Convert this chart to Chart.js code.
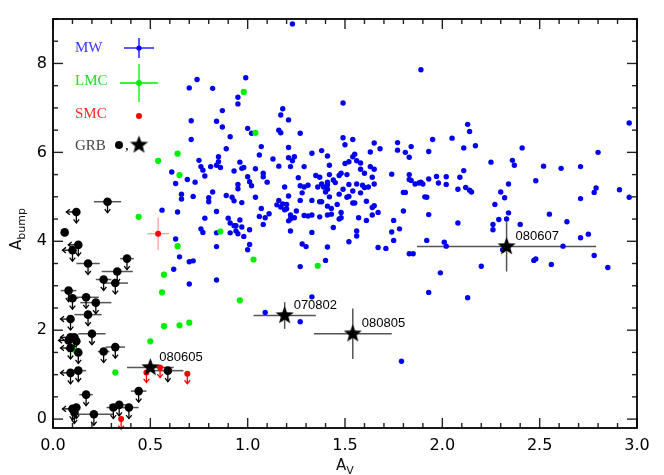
<!DOCTYPE html>
<html>
<head>
<meta charset="utf-8">
<title>A_bump vs A_V</title>
<script src="https://cdn.jsdelivr.net/npm/chart.js@4.4.1/dist/chart.umd.min.js"></script>
<style>
  html, body { margin: 0; padding: 0; background: #fff; }
  #wrap { width: 664px; height: 475px; }
</style>
</head>
<body>
<div id="wrap"><canvas id="chart" width="664" height="475"></canvas></div>
<script>
// Milky Way sightlines [A_V, A_bump]
var mwPoints = [
  [1.23,8.89],[0.74,7.64],[0.70,7.45],[0.99,7.68],[0.82,7.44],[1.89,7.86],
  [0.95,7.24],[0.95,7.09],[0.87,6.94],[1.18,6.98],[1.17,6.84],[1.21,6.73],[0.71,6.71],[0.84,6.70],
  [0.87,6.57],[1.00,6.54],[1.02,6.43],[1.16,6.50],[1.17,6.44],[1.27,6.43],[0.91,6.35],[0.71,6.29],
  [1.07,6.13],[1.21,6.11],[0.89,6.08],[1.38,6.04],[1.33,5.98],[1.06,5.94],[0.85,5.90],[1.41,5.92],
  [1.21,5.88],[1.24,5.90],[1.13,5.85],[0.75,5.82],[0.85,5.79],[0.96,5.78],[1.23,5.81],[0.76,5.68],
  [0.81,5.68],[0.84,5.71],[0.86,5.66],[0.97,5.64],[0.98,5.66],[1.16,5.69],[1.22,5.68],[1.29,5.68],
  [0.77,5.60],[0.93,5.58],[1.04,5.63],[1.08,5.53],[1.42,5.71],[0.69,5.39],[0.73,5.33],[0.78,5.47],
  [1.00,5.45],[1.08,5.45],[1.01,5.34],[1.02,5.25],[1.10,5.33],[1.35,5.48],[1.37,5.44],[1.26,5.43],
  [0.95,5.28],[0.95,5.18],[1.19,5.22],[1.27,5.25],[1.28,5.09],[1.29,5.22],[1.31,5.26],[1.36,5.22],
  [1.38,5.29],[1.39,5.22],[1.41,5.33],[1.41,5.17],[1.40,5.11],[1.42,5.00],[0.82,5.11],[0.66,5.06],
  [0.66,4.95],[0.72,5.01],[0.80,4.98],[0.80,4.89],[0.89,5.03],[0.92,4.99],[0.93,4.91],[0.97,4.87],
  [1.04,4.99],[1.21,5.02],[1.16,4.92],[1.15,4.82],[1.17,4.77],[1.18,4.84],[1.20,4.83],[1.20,4.73],
  [1.19,4.71],[1.25,4.68],[1.27,4.92],[1.33,4.92],[1.37,4.89],[1.38,4.89],[1.41,4.79],[1.07,4.74],
  [1.06,4.56],[1.09,4.53],[1.11,4.62],[1.08,4.38],[1.22,4.59],[1.24,4.53],[1.22,4.50],[1.21,4.46],
  [1.29,4.58],[1.31,4.57],[1.33,4.59],[1.37,4.55],[1.41,4.59],[0.84,4.67],[0.78,4.52],[0.90,4.52],
  [0.91,4.41],[0.93,4.35],[0.94,4.35],[0.96,4.48],[0.97,4.32],[1.01,4.26],[0.94,4.23],[0.95,4.17],
  [0.98,4.11],[0.91,4.19],[0.84,4.19],[0.76,4.28],[0.77,4.20],[1.22,4.23],[1.33,4.20],[1.01,3.93],
  [0.84,3.88],[1.28,3.94],[1.30,3.88],[1.00,3.81],[1.42,5.50],[1.41,5.27],[1.41,3.87],
  [1.49,7.11],[1.49,6.33],[1.54,6.29],[1.50,6.17],[1.65,6.21],[1.68,6.08],[1.63,6.01],[1.77,6.22],
  [1.77,6.05],[1.81,6.00],[1.83,5.89],[1.84,6.13],[1.95,6.29],[1.93,6.02],[2.05,6.32],[2.11,6.10],
  [2.13,6.63],[2.14,6.47],[1.50,5.75],[1.52,5.79],[1.54,5.90],[1.55,5.96],[1.56,5.81],[1.58,5.76],
  [1.60,5.53],[1.58,5.62],[1.63,5.68],[1.65,5.62],[1.64,5.44],[1.65,5.29],[1.62,5.22],[1.60,5.21],
  [1.59,5.26],[1.56,5.29],[1.52,5.28],[1.51,5.50],[1.48,5.53],[1.47,5.48],[1.45,5.32],[1.44,5.38],
  [1.47,5.06],[1.49,5.17],[1.52,5.01],[1.51,4.99],[1.54,5.13],[1.58,5.09],[1.54,4.86],[1.55,4.86],
  [1.61,4.90],[1.43,4.74],[1.46,4.83],[1.48,4.65],[1.43,4.61],[1.47,4.50],[1.48,4.53],[1.57,4.53],
  [1.61,4.47],[1.64,4.59],[1.67,4.65],[1.65,4.80],[1.64,4.76],[1.44,4.31],[1.56,4.23],[1.56,4.12],
  [1.52,3.99],[1.67,3.86],[1.71,3.84],[1.74,5.51],[1.80,5.10],[1.81,5.10],[1.80,4.68],[1.75,4.47],
  [1.74,4.21],[1.75,4.02],[1.78,4.28],[1.83,5.50],[1.83,5.39],[1.84,5.37],[1.86,5.29],[1.88,5.31],
  [1.89,5.33],[1.90,5.29],[1.91,5.00],[1.92,4.99],[1.93,5.40],[1.93,4.60],[1.92,4.02],[1.97,5.46],
  [1.98,5.31],[2.02,5.45],[2.02,5.28],[2.08,5.17],[2.09,5.44],[2.11,5.59],[2.12,5.21],[2.14,5.15],
  [2.08,4.41],[2.01,3.98],[2.02,3.89],
  [1.40,3.57],[1.27,3.43],[1.83,3.72],[1.85,3.72],[1.99,3.29],[1.93,2.85],[2.13,2.73],[1.79,1.30],
  [0.64,4.66],[0.56,4.70],[0.63,4.05],[0.65,3.65],[0.70,3.54],[0.72,3.56],[0.62,3.37],[0.70,3.04],
  [0.84,3.13],[1.33,2.75],[1.09,2.40],[1.27,2.19],[0.61,5.56],[0.63,5.30],
  [2.17,6.15],[2.25,5.78],[2.36,5.82],[2.37,5.71],[2.41,6.10],[2.15,5.11],[2.30,5.11],[2.32,4.98],
  [2.34,5.29],[2.27,4.83],[2.29,4.49],[2.26,4.38],[2.26,4.26],[2.33,4.50],[2.34,4.64],[2.40,4.38],
  [2.31,3.81],[2.20,3.44],[2.48,5.36],[2.52,5.69],[2.61,5.64],[2.55,4.61],[2.64,4.44],[2.71,5.68],
  [2.71,4.96],[2.71,4.08],[2.75,4.16],[2.78,5.10],[2.79,5.20],[2.80,6.00],[2.91,5.16],[2.96,6.66],
  [2.96,4.99],[2.62,3.89],[2.78,3.68],[2.85,3.41],[2.47,3.57],[2.48,3.60],[2.56,3.48]
];

// LMC sightlines
var lmcPoints = [
  [0.98,7.36],[1.04,6.44],[0.64,5.97],[0.54,5.81],[0.65,5.49],[0.86,4.22],[0.44,4.55],[0.64,3.89],
  [0.57,3.25],[0.56,2.85],[0.57,2.09],[0.65,2.11],[0.70,2.17],[0.50,1.75],[0.96,2.67],[1.03,3.59],
  [1.36,3.45],[0.32,1.05],[0.11,1.56]
];

// SMC: one detection (with errors) and upper limits
var smcPoint = [[0.54, 4.17]];
var smcErr = [[0.056, 0.36]];   // [A_V err, A_bump err]
var smcLimits = [[0.48,1.05],[0.55,1.16],[0.69,1.02],[0.35,0.00]];

// GRB afterglows: [A_V, A_bump, A_V err, A_V upper limit?, A_bump upper limit?]
var grbLimits = [
  [0.28,4.89,0.07,0,1],[0.12,4.66,0,1,1],[0.06,4.20,0,0,0],[0.13,3.92,0,1,1],[0.10,3.80,0,1,1],
  [0.18,3.50,0.06,0,1],[0.38,3.61,0.035,0,1],[0.33,3.32,0.08,0,1],[0.26,3.14,0.04,0,1],
  [0.32,3.06,0.065,0,1],[0.08,2.89,0.04,0,1],[0.10,2.72,0.03,0,1],[0.17,2.74,0.065,0,1],
  [0.22,2.62,0.08,0,1],[0.18,2.35,0.07,0,1],[0.09,2.25,0,1,1],[0.20,1.92,0.07,0,1],
  [0.09,1.84,0,1,1],[0.11,1.84,0,0,1],[0.08,1.77,0,1,1],[0.12,1.75,0,0,1],[0.09,1.60,0,1,1],
  [0.13,1.50,0,0,1],[0.26,1.52,0.03,0,1],[0.32,1.62,0.05,0,1],[0.09,1.04,0,1,1],
  [0.13,1.09,0.04,0,1],[0.17,0.55,0.035,0,1],[0.10,0.23,0,1,1],[0.12,0.26,0,0,1],
  [0.11,0.15,0,0,1],[0.21,0.11,0.10,0,1],[0.31,0.26,0.035,0,1],[0.34,0.32,0.05,0,1],
  [0.39,0.26,0.05,0,1],[0.44,0.63,0.04,0,1],[0.59,1.09,0.08,0,1]
];

// GRBs with a detected 2175A bump
var grbNames   = ['080605', '070802', '080805', '080607'];
var grbAv      = [0.50, 1.19, 1.54, 2.33];
var grbBump    = [1.16, 2.33, 1.92, 3.88];
var grbAvErr   = [0.12, 0.16, 0.20, 0.46];
var grbBumpErr = [0.08, 0.30, 0.57, 0.56];

var xTicks = [0, 0.5, 1.0, 1.5, 2.0, 2.5, 3.0];
var yTicks = [0, 2, 4, 6, 8];

function toXY(arr) {
  return arr.map(function(p) { return {x: p[0], y: p[1]}; });
}

function makeStar(r) {
  var c = document.createElement('canvas');
  c.width = c.height = Math.ceil(2 * r + 2);
  var g = c.getContext('2d');
  var cx = c.width / 2, cy = c.height / 2;
  g.beginPath();
  for (var i = 0; i < 10; i++) {
    var rr = (i % 2 === 0) ? r : r * 0.42;
    var a = -Math.PI / 2 + i * Math.PI / 5;
    g.lineTo(cx + rr * Math.cos(a), cy + rr * Math.sin(a));
  }
  g.closePath();
  g.fillStyle = '#000';
  g.fill();
  return c;
}
var starImg = makeStar(9.5);

function line(ctx, x1, y1, x2, y2) {
  ctx.beginPath();
  ctx.moveTo(x1, y1);
  ctx.lineTo(x2, y2);
  ctx.stroke();
}

function arrow(ctx, x, y, dx, dy, len) {
  var tx = x + dx * len, ty = y + dy * len;
  line(ctx, x, y, tx, ty);
  ctx.beginPath();
  ctx.moveTo(tx - dx * 3.5 + dy * 2.8, ty - dy * 3.5 + dx * 2.8);
  ctx.lineTo(tx, ty);
  ctx.lineTo(tx - dx * 3.5 - dy * 2.8, ty - dy * 3.5 - dx * 2.8);
  ctx.stroke();
}

// draws A with a subscript, centred on (0,0) of the current transform
function subText(ctx, main, sub) {
  ctx.font = '15px "DejaVu Sans"';
  var w1 = ctx.measureText(main).width;
  ctx.font = '11px "DejaVu Sans"';
  var w2 = ctx.measureText(sub).width;
  var x0 = -(w1 + w2) / 2;
  ctx.textBaseline = 'middle';
  ctx.textAlign = 'left';
  ctx.font = '15px "DejaVu Sans"';
  ctx.fillText(main, x0, 0);
  ctx.font = '11px "DejaVu Sans"';
  ctx.fillText(sub, x0 + w1, 5);
}

var extras = {
  id: 'extras',
  beforeDatasetsDraw: function(chart) {
    var ctx = chart.ctx, xs = chart.scales.x, ys = chart.scales.y;
    ctx.save();

    // SMC error cross
    ctx.strokeStyle = 'rgba(255,110,110,0.85)';
    ctx.lineWidth = 1;
    smcPoint.forEach(function(p, i) {
      var e = smcErr[i];
      var px = xs.getPixelForValue(p[0]), py = ys.getPixelForValue(p[1]);
      line(ctx, xs.getPixelForValue(p[0] - e[0]), py, xs.getPixelForValue(p[0] + e[0]), py);
      line(ctx, px, ys.getPixelForValue(p[1] - e[1]), px, ys.getPixelForValue(p[1] + e[1]));
    });

    // GRB horizontal bars
    ctx.strokeStyle = '#555';
    ctx.lineWidth = 1.5;
    grbLimits.forEach(function(g) {
      if (g[2] > 0) {
        var py = ys.getPixelForValue(g[1]);
        line(ctx, xs.getPixelForValue(g[0] - g[2]), py, xs.getPixelForValue(g[0] + g[2]), py);
      }
    });
    grbAv.forEach(function(v, i) {
      var px = xs.getPixelForValue(v), py = ys.getPixelForValue(grbBump[i]);
      line(ctx, xs.getPixelForValue(v - grbAvErr[i]), py, xs.getPixelForValue(v + grbAvErr[i]), py);
      line(ctx, px, ys.getPixelForValue(grbBump[i] - grbBumpErr[i]), px, ys.getPixelForValue(grbBump[i] + grbBumpErr[i]));
    });

    // upper limit arrows
    ctx.strokeStyle = '#000';
    ctx.lineWidth = 1.3;
    grbLimits.forEach(function(g) {
      var px = xs.getPixelForValue(g[0]), py = ys.getPixelForValue(g[1]);
      if (g[4]) arrow(ctx, px, py, 0, 1, 11);
      if (g[3]) arrow(ctx, px, py, -1, 0, 10);
    });
    ctx.strokeStyle = '#f00';
    smcLimits.forEach(function(p) {
      arrow(ctx, xs.getPixelForValue(p[0]), ys.getPixelForValue(p[1]), 0, 1, 10);
    });
    ctx.restore();
  },
  afterDraw: function(chart) {
    var ctx = chart.ctx, ca = chart.chartArea, xs = chart.scales.x, ys = chart.scales.y;
    ctx.save();

    // inward ticks on all four sides
    ctx.strokeStyle = '#222';
    ctx.lineWidth = 1.4;
    var i, v, p, len;
    for (i = 0; i <= 30; i++) {
      v = i / 10;
      p = xs.getPixelForValue(v);
      len = (i % 5 === 0) ? 10 : 5;
      line(ctx, p, ca.bottom, p, ca.bottom - len);
      line(ctx, p, ca.top, p, ca.top + len);
    }
    for (i = 0; i <= 18; i++) {
      v = i / 2;
      p = ys.getPixelForValue(v);
      len = (i % 4 === 0) ? 10 : 5;
      line(ctx, ca.left, p, ca.left + len, p);
      line(ctx, ca.right, p, ca.right - len, p);
    }
    ctx.strokeStyle = '#000';
    ctx.lineWidth = 1.8;
    ctx.strokeRect(ca.left, ca.top, ca.right - ca.left, ca.bottom - ca.top);

    // axis titles
    ctx.fillStyle = '#111';
    ctx.save();
    ctx.translate((ca.left + ca.right) / 2, 466);
    subText(ctx, 'A', 'V');
    ctx.restore();
    ctx.save();
    ctx.translate(17, 229);
    ctx.rotate(-Math.PI / 2);
    subText(ctx, 'A', 'bump');
    ctx.restore();

    // GRB names next to the stars
    ctx.font = '13px "Liberation Sans"';
    ctx.fillStyle = '#000';
    ctx.textAlign = 'left';
    ctx.textBaseline = 'middle';
    grbNames.forEach(function(n, k) {
      ctx.fillText(n, xs.getPixelForValue(grbAv[k]) + 9, ys.getPixelForValue(grbBump[k]) - 10);
    });

    // legend
    var tx = ca.left + 22, mx = ca.left + 86;
    ctx.font = '15px "Liberation Serif"';
    ctx.textBaseline = 'middle';
    var rows = [
      {t: 'MW',  c: '#3636ff', ty: 29,  my: 29,  h: 15, vv: 10},
      {t: 'LMC', c: '#22dd22', ty: 62,  my: 64,  h: 19, vv: 19},
      {t: 'SMC', c: '#ff2a2a', ty: 95,  my: 97,  h: 0,  vv: 0},
      {t: 'GRB', c: '#444',    ty: 127, my: 126, h: 0,  vv: 0}
    ];
    rows.forEach(function(r) {
      ctx.fillStyle = r.c;
      ctx.fillText(r.t, tx, ca.top + r.ty);
    });
    // MW & LMC crosses
    [[rows[0], '#0000ff', 2.6], [rows[1], '#00ee00', 3.0]].forEach(function(e) {
      var r = e[0], y = ca.top + r.my;
      ctx.strokeStyle = e[1];
      ctx.fillStyle = e[1];
      ctx.lineWidth = 1.3;
      line(ctx, mx - r.h, y, mx + r.h, y);
      line(ctx, mx, y - r.vv, mx, y + r.vv);
      ctx.beginPath();
      ctx.arc(mx, y, e[2], 0, Math.PI * 2);
      ctx.fill();
    });
    ctx.fillStyle = '#ff0000';
    ctx.beginPath();
    ctx.arc(mx, ca.top + rows[2].my, 3, 0, Math.PI * 2);
    ctx.fill();
    var gy = ca.top + rows[3].my;
    ctx.fillStyle = '#000';
    ctx.beginPath();
    ctx.arc(mx - 20, gy, 4, 0, Math.PI * 2);
    ctx.fill();
    ctx.fillText(',', mx - 14, gy + 1);
    ctx.drawImage(starImg, mx - starImg.width / 2, gy - starImg.height / 2);

    ctx.restore();
  }
};

new Chart(document.getElementById('chart'), {
  type: 'scatter',
  data: {
    datasets: [
      {label: 'GRB bump', data: grbAv.map(function(v, i) { return {x: v, y: grbBump[i]}; }),
       pointStyle: starImg, order: 0},
      {label: 'GRB', data: toXY(grbLimits), pointRadius: 4.3, backgroundColor: '#000',
       borderWidth: 0, order: 1},
      {label: 'SMC', data: toXY(smcPoint.concat(smcLimits)), pointRadius: 3,
       backgroundColor: '#ff0000', borderWidth: 0, order: 2},
      {label: 'LMC', data: toXY(lmcPoints), pointRadius: 3.1, backgroundColor: '#00ee00',
       borderWidth: 0, order: 3},
      {label: 'MW', data: toXY(mwPoints), pointRadius: 2.7, backgroundColor: '#0000f0',
       borderWidth: 0, order: 4}
    ]
  },
  options: {
    responsive: false,
    animation: false,
    events: [],
    layout: {padding: {top: 19, right: 27, left: 0, bottom: 0}},
    plugins: {legend: {display: false}, tooltip: {enabled: false}},
    scales: {
      x: {
        type: 'linear', min: 0, max: 3,
        afterBuildTicks: function(s) { s.ticks = xTicks.map(function(v) { return {value: v}; }); },
        afterFit: function(s) { s.height = 47; },
        grid: {display: false, drawTicks: false},
        border: {display: false},
        ticks: {
          callback: function(v) { return Number(v).toFixed(1); },
          font: {family: 'DejaVu Sans', size: 16}, color: '#000',
          padding: 8, maxRotation: 0, autoSkip: false
        }
      },
      y: {
        type: 'linear', min: -0.2, max: 9,
        afterBuildTicks: function(s) { s.ticks = yTicks.map(function(v) { return {value: v}; }); },
        afterFit: function(s) { s.width = 53; },
        grid: {display: false, drawTicks: false},
        border: {display: false},
        ticks: {
          callback: function(v) { return String(v); },
          font: {family: 'DejaVu Sans', size: 16}, color: '#000',
          padding: 6
        }
      }
    }
  },
  plugins: [extras]
});
</script>
</body>
</html>
